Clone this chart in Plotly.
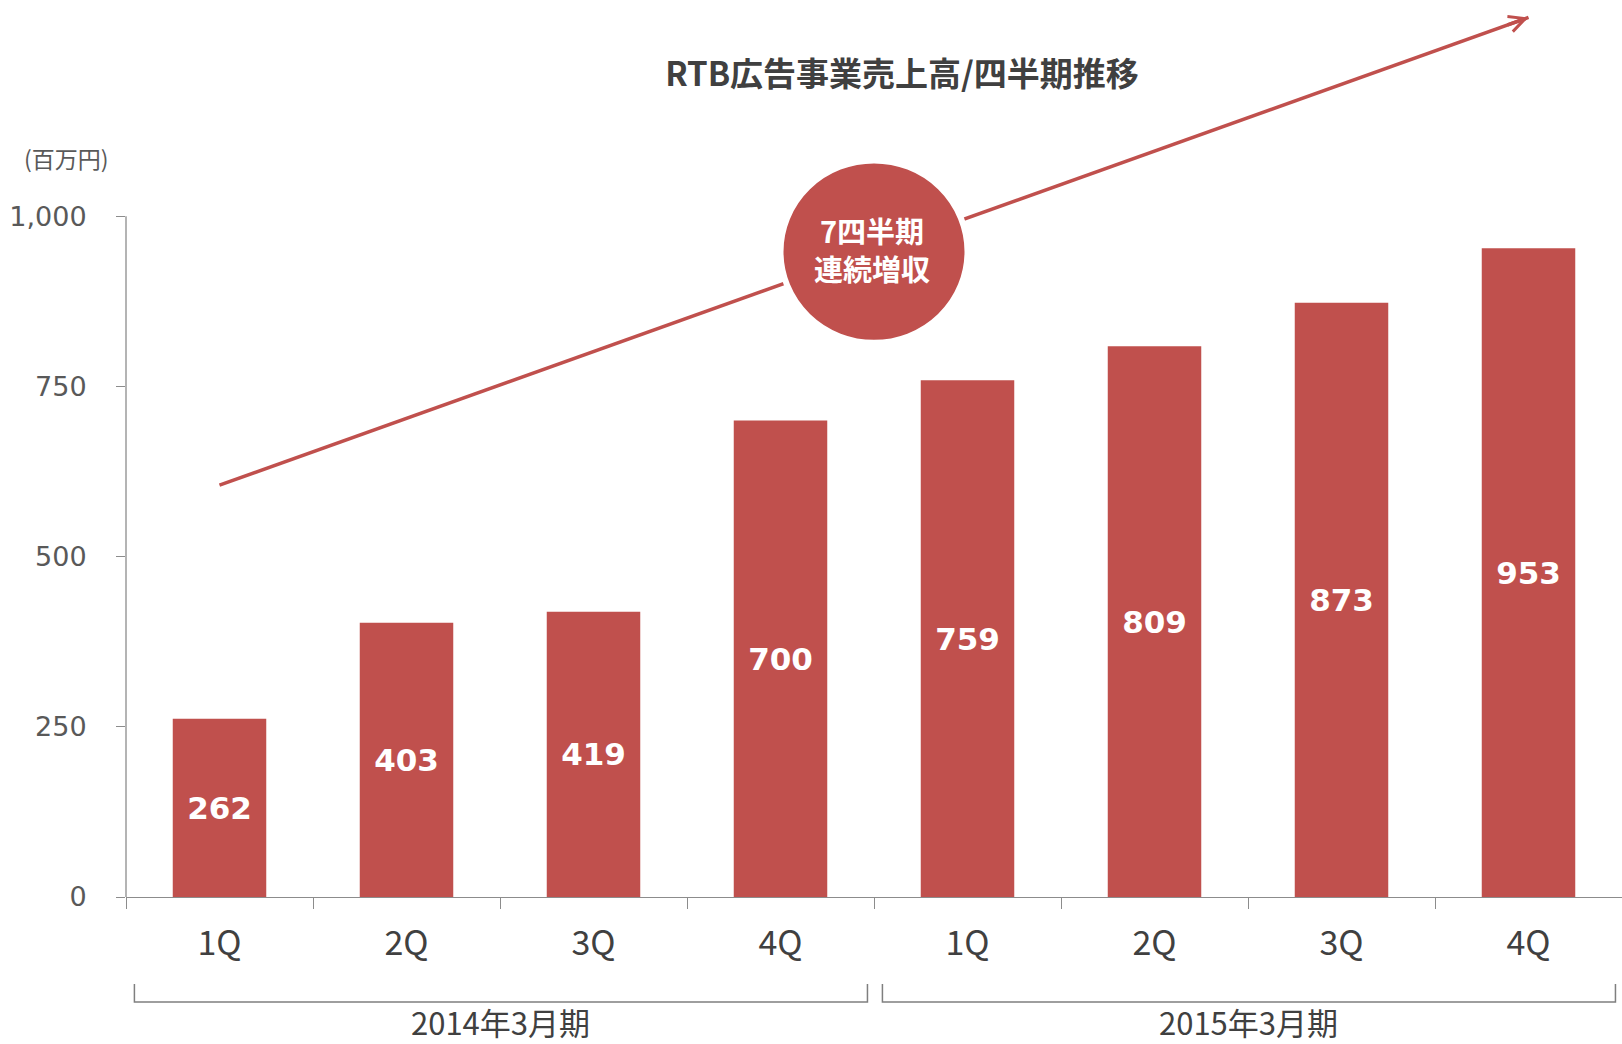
import plotly.graph_objects as go

# ---- data ----
quarters = ["1Q", "2Q", "3Q", "4Q", "1Q", "2Q", "3Q", "4Q"]
fiscal_years = ["2014年3月期", "2015年3月期"]
group_size = 4
sales = [262, 403, 419, 700, 759, 809, 873, 953]
y_tickvals = [0, 250, 500, 750, 1000]
y_ticktext = ["0", "250", "500", "750", "1,000"]
title_text = "RTB広告事業売上高/四半期推移"
unit_text = "(百万円)"
badge_lines = ["7四半期", "連続増収"]

# decoration (trend arrow) in data units
arrow_start = (0, 605)
arrow_end = (7, 1292)
badge_center = (3.5, 948)
badge_rx, badge_ry = 0.5, 134

# ---- style ----
W, H = 1622, 1044
ML, MR, MT, MB = 126, 0, 12, 147
PH = H - MT - MB
BAR = "#C0504D"
AX = "#8C8C8C"
TXT = "#404040"
YRANGE = [0, 1300]

def ypx(py):
    return (H - MB - py) / PH

def xpx(px):
    return (px - ML) / (W - ML - MR)

xs = list(range(len(sales)))

fig = go.Figure()
fig.add_trace(go.Bar(
    x=xs, y=sales, width=0.5, marker=dict(color=BAR, line=dict(width=0)),
    text=[f"<b>{v}</b>" for v in sales], textposition="inside",
    insidetextanchor="middle", textangle=0, constraintext="none",
    textfont=dict(color="white", size=31, family="DejaVu Sans"),
    hoverinfo="skip",
))

# trend line
fig.add_trace(go.Scatter(
    x=[arrow_start[0], arrow_end[0]], y=[arrow_start[1], arrow_end[1]],
    mode="lines", line=dict(color=BAR, width=3.5), cliponaxis=False,
    hoverinfo="skip", showlegend=False,
))

slope = (arrow_end[1] - arrow_start[1]) / (arrow_end[0] - arrow_start[0])
dx = 0.12
annotations = [
    dict(x=arrow_end[0], y=arrow_end[1], xref="x", yref="y",
         ax=arrow_end[0] - dx, ay=arrow_end[1] - dx * slope, axref="x", ayref="y",
         text="", showarrow=True, arrowhead=5, arrowsize=0.9, arrowwidth=3.5,
         arrowcolor=BAR),
    dict(x=xpx(22), y=ypx(158), xref="paper", yref="paper", xanchor="left",
         yanchor="middle", text=unit_text, showarrow=False,
         font=dict(color="#595959", size=23, family="Noto Sans CJK JP")),
]
for i, line in enumerate(badge_lines):
    annotations.append(dict(
        x=badge_center[0] - 0.01, y=ypx(230 + 38 * i), xref="x", yref="paper",
        yanchor="middle", text=f"<b>{line}</b>", showarrow=False, borderpad=0,
        font=dict(color="white", size=29, family="Noto Sans CJK JP")))

shapes = [
    dict(type="circle", xref="x", yref="y",
         x0=badge_center[0] - badge_rx, x1=badge_center[0] + badge_rx,
         y0=badge_center[1] - badge_ry, y1=badge_center[1] + badge_ry,
         fillcolor=BAR, line=dict(color="white", width=6), layer="above"),
    dict(type="line", xref="paper", yref="y", x0=0, x1=0, y0=0, y1=1000,
         line=dict(color=AX, width=1.3)),
]

# fiscal-year brackets
top, bot = ypx(984), ypx(1002)
for g, label in enumerate(fiscal_years):
    a = g * group_size - 0.5 + 0.045
    b = (g + 1) * group_size - 0.5 - 0.035
    shapes.append(dict(type="path", xref="x", yref="paper",
                       path=f"M {a},{top} L {a},{bot} L {b},{bot} L {b},{top}",
                       line=dict(color="#7F7F7F", width=1.5)))
    annotations.append(dict(x=(a + b) / 2, y=ypx(1022), xref="x", yref="paper",
                            text=label, showarrow=False, yanchor="middle",
                            font=dict(color=TXT, size=31, family="Noto Sans CJK JP")))

fig.update_layout(
    width=W, height=H,
    margin=dict(l=ML, r=MR, t=MT, b=MB, pad=0),
    paper_bgcolor="white", plot_bgcolor="white",
    showlegend=False, bargap=0.5,
    title=dict(text=f"<b>{title_text}</b>", x=902 / W, y=1 - 74 / H,
               xanchor="center", yanchor="middle",
               font=dict(color=TXT, size=33, family="Noto Sans CJK JP")),
    xaxis=dict(range=[-0.5, len(sales) - 0.5], tickvals=xs, ticktext=quarters,
               ticks="", showgrid=False, zeroline=False,
               showline=True, linecolor=AX, linewidth=1.3,
               tickfont=dict(color=TXT, size=34, family="Noto Sans CJK JP"),
               ticklabelstandoff=16,
               minor=dict(tickmode="array",
                          tickvals=[i - 0.5 for i in range(len(sales) + 1)],
                          ticks="outside", ticklen=11, tickcolor=AX, tickwidth=1.3,
                          showgrid=False)),
    yaxis=dict(range=YRANGE, tickvals=y_tickvals, ticktext=y_ticktext,
               ticks="outside", ticklen=9, tickcolor=AX, tickwidth=1.3,
               showgrid=False, zeroline=False, showline=False,
               tickfont=dict(color="#595959", size=27, family="DejaVu Sans"),
               ticklabelstandoff=24),
    shapes=shapes, annotations=annotations,
)

fig.write_html("out.html", config={"displayModeBar": False},
               post_script="document.body.style.margin='0';document.body.style.padding='0';")
